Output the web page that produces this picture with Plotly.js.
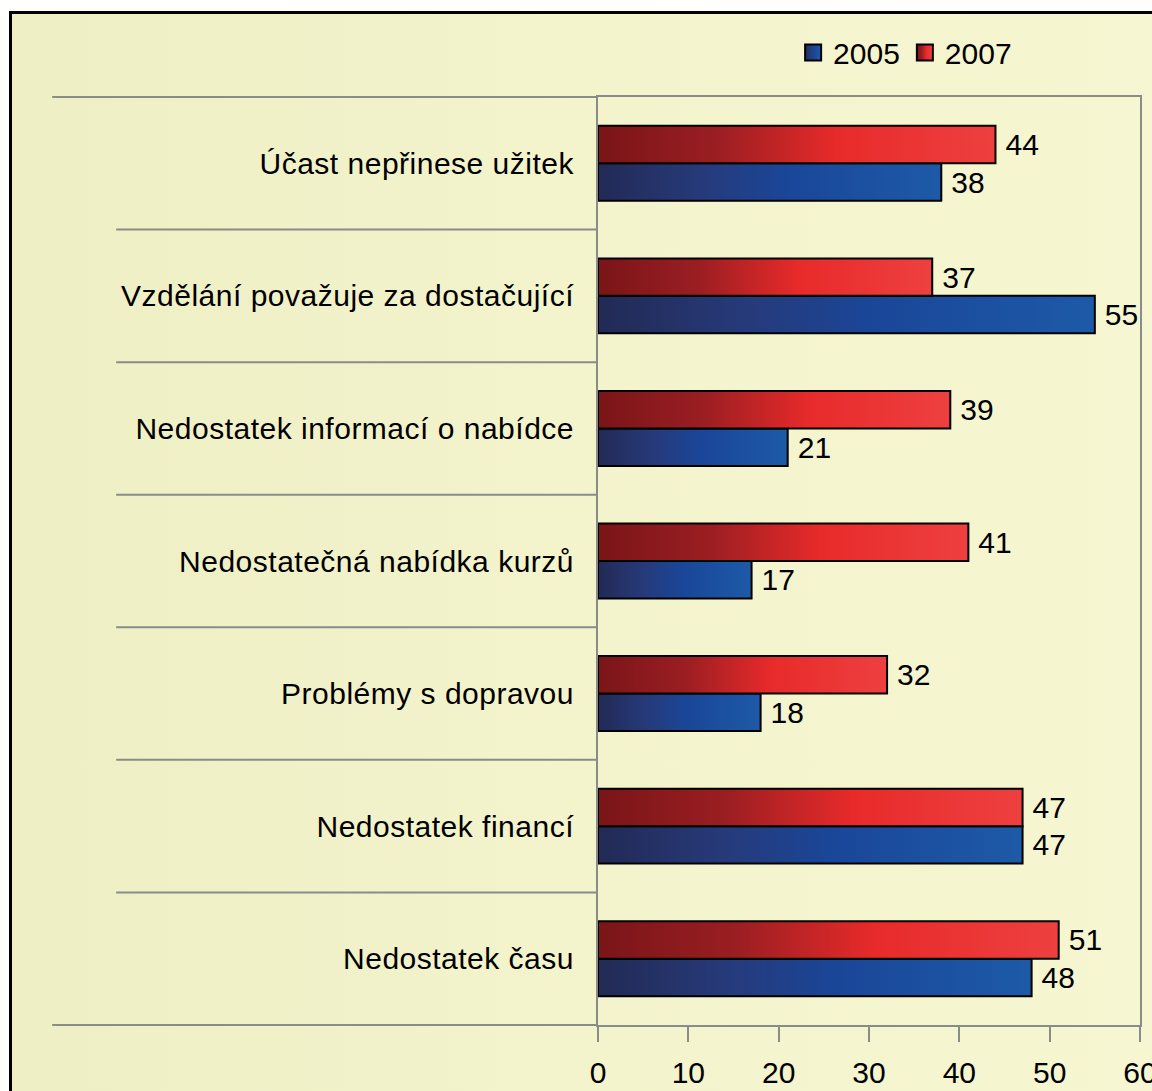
<!DOCTYPE html>
<html>
<head>
<meta charset="utf-8">
<script src="https://cdn.plot.ly/plotly-3.0.1.min.js"></script>
<style>
  html, body { margin: 0; padding: 0; width: 1152px; height: 1091px; overflow: hidden; background: #ffffff; }
  #frame { position: absolute; left: 9px; top: 11px; width: 1200px; height: 1200px; border: 3px solid #000;
           background: linear-gradient(90deg, #efefc5 0%, #f3f3cc 45%, #f6f6d2 100%); box-sizing: border-box; }
  #chart { position: absolute; left: 0; top: 0; width: 1152px; height: 1091px; }
  #chart .ytick text { letter-spacing: 0.5px; }
</style>
</head>
<body>
<div id="frame"></div>
<div id="chart"></div>
<script>
// Categories listed top to bottom as in the reference
const categories = [
  "Účast nepřinese užitek",
  "Vzdělání považuje za dostačující",
  "Nedostatek informací o nabídce",
  "Nedostatečná nabídka kurzů",
  "Problémy s dopravou",
  "Nedostatek financí",
  "Nedostatek času"
];
const values2005 = [38, 55, 21, 17, 18, 47, 48];
const values2007 = [44, 37, 39, 41, 32, 47, 51];
const seriesNames = ["2005", "2007"];
const xTicks = [0, 10, 20, 30, 40, 50, 60];

const font = "Liberation Sans, Arial, sans-serif";
const gray = "#8a8c8a";

const traces = [
  {
    type: "bar", orientation: "h", name: seriesNames[0],
    y: categories, x: values2005,
    text: values2005.map(String), textposition: "outside", constraintext: "none",
    textfont: { family: font, size: 30, color: "#000" }, cliponaxis: false,
    marker: { color: "#1a4696", line: { color: "#000", width: 2 } },
    hoverinfo: "skip"
  },
  {
    type: "bar", orientation: "h", name: seriesNames[1],
    y: categories, x: values2007,
    text: values2007.map(String), textposition: "outside", constraintext: "none",
    textfont: { family: font, size: 30, color: "#000" }, cliponaxis: false,
    marker: { color: "#e82a2a", line: { color: "#000", width: 2 } },
    hoverinfo: "skip"
  }
];

// separators between categories (category index boundaries), computed from the category list
const shapes = [];
for (let i = 0; i < categories.length - 1; i++) {
  shapes.push({ type: "line", xref: "paper", yref: "y", x0: -0.889, x1: 0, y0: i + 0.5, y1: i + 0.5,
                line: { color: gray, width: 2 } });
}
shapes.push({ type: "line", xref: "paper", yref: "paper", x0: -1.007, x1: 0, y0: 1, y1: 1, line: { color: gray, width: 2 } });
shapes.push({ type: "line", xref: "paper", yref: "paper", x0: -1.007, x1: 0, y0: 0, y1: 0, line: { color: gray, width: 2 } });

const layout = {
  width: 1152, height: 1091,
  margin: { l: 598, r: 12, t: 97, b: 66 },
  paper_bgcolor: "rgba(0,0,0,0)", plot_bgcolor: "rgba(0,0,0,0)",
  font: { family: font, size: 30, color: "#000" },
  barmode: "group", bargap: 0.435, bargroupgap: 0,
  showlegend: true,
  legend: { orientation: "h", x: 0.36, xanchor: "left", y: 1.048, yanchor: "middle",
            font: { family: font, size: 30, color: "#000" }, bgcolor: "rgba(0,0,0,0)", traceorder: "normal",
            itemwidth: 30 },
  xaxis: {
    range: [0, 60], tickvals: xTicks, ticktext: xTicks.map(String),
    ticks: "outside", ticklen: 15, tickwidth: 2, tickcolor: gray,
    showline: true, linecolor: gray, linewidth: 2, mirror: true,
    showgrid: false, zeroline: false, fixedrange: true, ticklabeloverflow: "allow",
    tickfont: { family: font, size: 30, color: "#000" }, ticklabelstandoff: 5
  },
  yaxis: {
    type: "category", categoryorder: "array", categoryarray: categories.slice().reverse(),
    ticks: "", showline: true, linecolor: gray, linewidth: 2, mirror: true,
    showgrid: false, zeroline: false, fixedrange: true,
    tickfont: { family: font, size: 30, color: "#000" }, ticklabelstandoff: 16
  },
  shapes: shapes
};

Plotly.newPlot("chart", traces, layout, { displayModeBar: false, staticPlot: true }).then(function (gd) {
  const svg = gd.querySelector("svg.main-svg");
  const ns = "http://www.w3.org/2000/svg";
  let defs = svg.querySelector("defs");
  if (!defs) { defs = document.createElementNS(ns, "defs"); svg.insertBefore(defs, svg.firstChild); }
  function grad(id, stops) {
    const g = document.createElementNS(ns, "linearGradient");
    g.setAttribute("id", id);
    g.setAttribute("x1", "0"); g.setAttribute("y1", "0"); g.setAttribute("x2", "1"); g.setAttribute("y2", "0");
    stops.forEach(function (s) {
      const st = document.createElementNS(ns, "stop");
      st.setAttribute("offset", s[0]); st.setAttribute("stop-color", s[1]);
      g.appendChild(st);
    });
    defs.appendChild(g);
  }
  grad("gBlue", [["0", "#222a55"], ["0.3", "#263a7a"], ["0.55", "#1a4698"], ["1", "#1d5aa8"]]);
  grad("gRed", [["0", "#7a1518"], ["0.3", "#9a1e22"], ["0.6", "#e82a2a"], ["1", "#ee4040"]]);
  const ids = ["gBlue", "gRed"];
  gd.querySelectorAll(".barlayer .trace").forEach(function (tr, i) {
    tr.querySelectorAll(".point path").forEach(function (p) { p.style.fill = "url(#" + ids[i] + ")"; });
    tr.querySelectorAll(".point text").forEach(function (t) { t.setAttribute("dx", "7"); });
  });
  gd.querySelectorAll(".legend .traces").forEach(function (tr, i) {
    tr.querySelectorAll(".legendpoints path").forEach(function (p) {
      p.style.fill = "url(#" + ids[i] + ")";
      p.setAttribute("d", "M8,8H-8V-8H8Z");
    });
  });
});
</script>
</body>
</html>
